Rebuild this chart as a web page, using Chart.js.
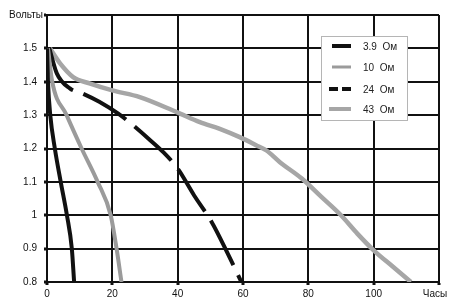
<!DOCTYPE html>
<html>
<head>
<meta charset="utf-8">
<script src="https://cdn.jsdelivr.net/npm/chart.js@4/dist/chart.umd.min.js"></script>
<style>
  html, body { margin: 0; padding: 0; background: #fff; }
  #wrap { width: 450px; height: 304px; }
</style>
</head>
<body>
<div id="wrap"><canvas id="c" width="450" height="304"></canvas></div>
<script>
// ---- data ----
const seriesLabels = ['3.9  Ом', '10  Ом', '24  Ом', '43  Ом'];

const hours39 = [0, 0.3, 1, 2.4, 4.2, 6.1, 7.6, 8.3];
const volts39 = [1.5, 1.4, 1.3, 1.2, 1.1, 1.0, 0.9, 0.8];

const hours10 = [0.3, 1.6, 6, 10.6, 15.5, 19.5, 21.3, 22.8];
const volts10 = [1.5, 1.4, 1.3, 1.2, 1.1, 1.0, 0.9, 0.8];

const hours24 = [0.7, 3, 7, 10.6, 16, 21.7, 26.3, 31, 35.5, 40, 45, 50.4, 55, 59.5];
const volts24 = [1.5, 1.425, 1.38, 1.366, 1.34, 1.305, 1.27, 1.23, 1.19, 1.14, 1.06, 0.98, 0.892, 0.8];

const hours43 = [0.9, 4, 8, 13, 20, 28.4, 39.7, 46.8, 52.9, 59, 64, 67.2, 71.3, 78, 84, 90, 95, 100, 106, 111.4];
const volts43 = [1.5, 1.455, 1.414, 1.395, 1.374, 1.354, 1.309, 1.279, 1.259, 1.234, 1.21, 1.194, 1.159, 1.11, 1.055, 1.0, 0.945, 0.895, 0.845, 0.8];

const xTickLabels = ['0', '20', '40', '60', '80', '100', 'Часы'];
const yTickLabels = ['0.8', '0.9', '1', '1.1', '1.2', '1.3', '1.4', '1.5', 'Вольты'];

// ---- styles ----
const FONT = '"Liberation Sans", Arial, sans-serif';
const styles = [
  { color: '#111111', width: 4, dash: [] , legendDash: [] },
  { color: '#9b9b9b', width: 4, dash: [] , legendDash: [] },
  { color: '#111111', width: 4, dash: [50, 11], legendDash: [9, 4] },
  { color: '#a6a6a6', width: 4.5, dash: [] , legendDash: [] }
];

function pts(xs, ys) { return xs.map((x, i) => ({ x: x, y: ys[i] })); }
const seriesData = [pts(hours39, volts39), pts(hours10, volts10), pts(hours24, volts24), pts(hours43, volts43)];

const datasets = seriesData.map((d, i) => ({
  label: seriesLabels[i],
  data: d,
  borderColor: styles[i].color,
  borderWidth: styles[i].width,
  borderDash: styles[i].dash,
  borderCapStyle: 'butt',
  pointRadius: 0,
  fill: false,
  cubicInterpolationMode: 'monotone'
}));

const decor = {
  id: 'decor',
  afterDraw(chart) {
    const ctx = chart.ctx;
    const a = chart.chartArea;
    ctx.save();
    ctx.font = '10px ' + FONT;
    ctx.fillStyle = '#111';
    // y-axis title at the top tick
    ctx.textAlign = 'right';
    ctx.textBaseline = 'middle';
    ctx.fillText(yTickLabels[yTickLabels.length - 1], a.left - 4, a.top);
    // x-axis title at the last tick
    ctx.textAlign = 'center';
    const xs = chart.scales.x;
    ctx.fillText(xTickLabels[xTickLabels.length - 1], a.right - 4, xs.top + 12);

    // legend box
    const bx = 321, by = 36, bw = 86, bh = 84;
    ctx.fillStyle = '#fff';
    ctx.fillRect(bx, by, bw, bh);
    ctx.strokeStyle = '#b5b5b5';
    ctx.lineWidth = 1;
    ctx.strokeRect(bx + 0.5, by + 0.5, bw, bh);
    const rows = [46, 67, 89, 109];
    chart.data.datasets.forEach((ds, i) => {
      const y = rows[i];
      ctx.beginPath();
      ctx.setLineDash(styles[i].legendDash);
      ctx.strokeStyle = styles[i].color;
      ctx.lineWidth = i === 1 ? 3 : 4;
      ctx.moveTo(i === 2 || i === 3 ? 329 : 332, y);
      ctx.lineTo(351, y);
      ctx.stroke();
      ctx.setLineDash([]);
      ctx.fillStyle = '#222';
      ctx.textAlign = 'left';
      ctx.textBaseline = 'middle';
      ctx.font = '10px ' + FONT;
      ctx.fillText(ds.label, 363, y + 1);
    });
    ctx.restore();
  }
};

new Chart(document.getElementById('c'), {
  type: 'line',
  data: { datasets: datasets },
  options: {
    responsive: false,
    animation: false,
    devicePixelRatio: 1,
    layout: { padding: { top: 15, right: 11, left: 0, bottom: 0 } },
    plugins: { legend: { display: false }, tooltip: { enabled: false } },
    scales: {
      x: {
        type: 'linear',
        min: 0, max: 120,
        ticks: {
          stepSize: 20,
          padding: 3,
          color: '#111',
          font: { family: FONT, size: 10 },
          maxRotation: 0,
          callback: (v, i) => (i === xTickLabels.length - 1 ? '' : xTickLabels[i])
        },
        grid: { color: '#111', lineWidth: 2, tickLength: 3, tickWidth: 3, tickColor: '#111' },
        border: { color: '#111', width: 2 },
        afterFit: (s) => { s.height = 22; }
      },
      y: {
        type: 'linear',
        min: 0.8, max: 1.6,
        ticks: {
          stepSize: 0.1,
          padding: 7,
          color: '#111',
          font: { family: FONT, size: 10 },
          callback: (v, i) => (i === yTickLabels.length - 1 ? '' : yTickLabels[i])
        },
        grid: { color: '#111', lineWidth: 2, tickLength: 3, tickWidth: 3, tickColor: '#111' },
        border: { color: '#111', width: 2 },
        afterFit: (s) => { s.width = 47; }
      }
    }
  },
  plugins: [decor]
});
</script>
</body>
</html>
